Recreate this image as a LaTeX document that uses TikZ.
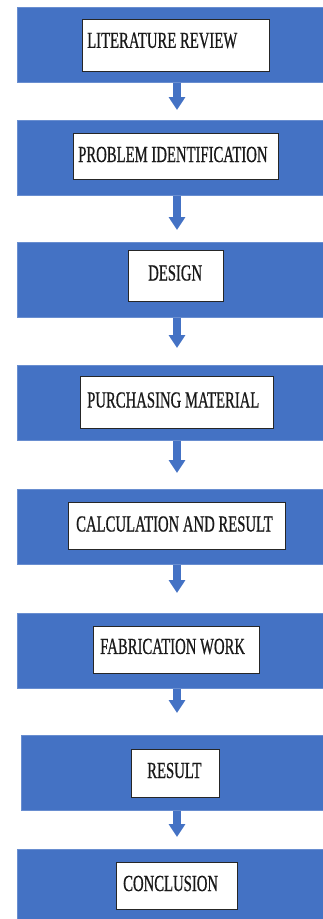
\documentclass[tikz,border=0pt]{standalone}
\usepackage{fontspec}
\usetikzlibrary{arrows.meta}
\newfontfamily\condfont[FakeStretch=0.64,FakeBold=0.6]{Liberation Serif}
\definecolor{officeblue}{HTML}{4472C4}
\tikzset{
  bluebar/.style={rectangle, fill=officeblue, draw=officeblue!80!white, line width=0.6pt, inner sep=0pt, minimum width=330pt, minimum height=75pt, anchor=north west},
  whitebox/.style={rectangle, fill=white, draw=black!85, line width=1.3pt, inner sep=0pt, anchor=north west},
  steptext/.style={inner sep=0pt, anchor=west, font=\condfont\fontsize{23}{25}\selectfont, text=black!90},
  flow/.style={draw=officeblue, line width=7.5pt, -{Triangle[width=16pt,length=13pt]}}
}
\begin{document}
\begin{tikzpicture}[x=1pt,y=-1pt]
\useasboundingbox (0,0) rectangle (323,919);
\clip (0,0) rectangle (323,919);
% blue bars
\node[bluebar] (b1) at (17,7) {};
\node[bluebar] (b2) at (17,120) {};
\node[bluebar] (b3) at (17,242) {};
\node[bluebar] (b4) at (17,365) {};
\node[bluebar] (b5) at (17,489) {};
\node[bluebar] (b6) at (17,613) {};
\node[bluebar] (b7) at (21,735) {};
\node[bluebar] (b8) at (17,849) {};
% white boxes
\node[whitebox, minimum width=187pt, minimum height=52pt] (w1) at (82,19) {};
\node[whitebox, minimum width=205pt, minimum height=46pt] (w2) at (73,133) {};
\node[whitebox, minimum width=95pt, minimum height=51pt] (w3) at (128,250) {};
\node[whitebox, minimum width=193pt, minimum height=52pt] (w4) at (80,376) {};
\node[whitebox, minimum width=217pt, minimum height=47pt] (w5) at (68,502) {};
\node[whitebox, minimum width=166pt, minimum height=47pt] (w6) at (93,626) {};
\node[whitebox, minimum width=88pt, minimum height=48pt] (w7) at (131,749) {};
\node[whitebox, minimum width=121pt, minimum height=47pt] (w8) at (116,862) {};
% texts
\node[steptext] (t1) at (87,40.5) {LITERATURE REVIEW};
\node[steptext] (t2) at (78,154.5) {PROBLEM IDENTIFICATION};
\node[steptext] (t3) at (148,273) {DESIGN};
\node[steptext] (t4) at (87,400) {PURCHASING MATERIAL};
\node[steptext] (t5) at (76,524) {CALCULATION AND RESULT};
\node[steptext] (t6) at (100,646.5) {FABRICATION WORK};
\node[steptext] (t7) at (147,770.5) {RESULT};
\node[steptext] (t8) at (123,883.5) {CONCLUSION};
% arrow tips
\coordinate (a1) at (177,110);
\coordinate (a2) at (177,230);
\coordinate (a3) at (177,348);
\coordinate (a4) at (177,473);
\coordinate (a5) at (177,593);
\coordinate (a6) at (177,713);
\coordinate (a7) at (177,837);
\draw[flow] (b1.south -| a1) -- (a1);
\draw[flow] (b2.south -| a2) -- (a2);
\draw[flow] (b3.south -| a3) -- (a3);
\draw[flow] (b4.south -| a4) -- (a4);
\draw[flow] (b5.south -| a5) -- (a5);
\draw[flow] (b6.south -| a6) -- (a6);
\draw[flow] (b7.south -| a7) -- (a7);
\end{tikzpicture}
\end{document}
